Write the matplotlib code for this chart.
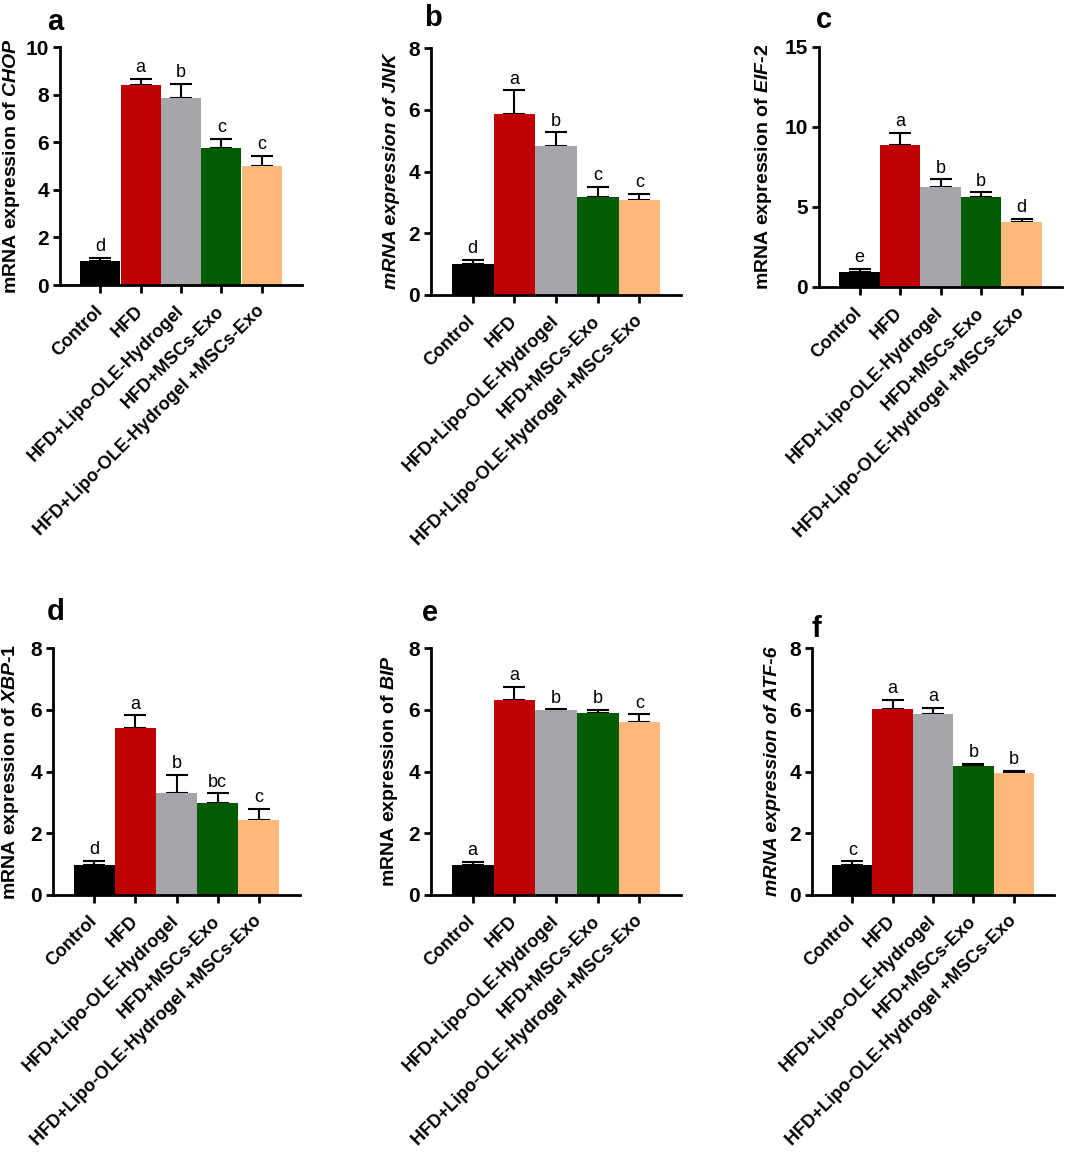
import matplotlib
matplotlib.use('Agg')
import matplotlib.pyplot as plt
import numpy as np

plt.rcParams['font.family'] = ['Liberation Sans', 'DejaVu Sans']
plt.rcParams['mathtext.fontset'] = 'custom'
plt.rcParams['mathtext.rm'] = 'Liberation Sans:bold'
plt.rcParams['mathtext.it'] = 'Liberation Sans:italic:bold'
plt.rcParams['mathtext.bf'] = 'Liberation Sans:bold'

# ---------------- data ----------------
groups = ['Control', 'HFD', 'HFD+Lipo-OLE-Hydrogel', 'HFD+MSCs-Exo',
          'HFD+Lipo-OLE-Hydrogel +MSCs-Exo']
colors = ['#000000', '#BE0000', '#A5A5AA', '#015C01', '#FFB97A']

chop_mean = [1.00, 8.42, 7.86, 5.74, 4.99]
chop_err = [0.15, 0.24, 0.60, 0.40, 0.42]
chop_sig = ['d', 'a', 'b', 'c', 'c']

jnk_mean = [1.00, 5.85, 4.84, 3.19, 3.08]
jnk_err = [0.14, 0.78, 0.43, 0.32, 0.20]
jnk_sig = ['d', 'a', 'b', 'c', 'c']

eif2_mean = [0.95, 8.90, 6.23, 5.61, 4.05]
eif2_err = [0.17, 0.72, 0.50, 0.30, 0.19]
eif2_sig = ['e', 'a', 'b', 'b', 'd']

xbp1_mean = [0.98, 5.41, 3.30, 2.98, 2.43]
xbp1_err = [0.12, 0.41, 0.59, 0.31, 0.37]
xbp1_sig = ['d', 'a', 'b', 'bc', 'c']

bip_mean = [0.98, 6.31, 5.98, 5.91, 5.60]
bip_err = [0.09, 0.43, 0.03, 0.08, 0.25]
bip_sig = ['a', 'a', 'b', 'b', 'c']

atf6_mean = [0.98, 6.01, 5.85, 4.18, 3.95]
atf6_err = [0.11, 0.31, 0.21, 0.06, 0.07]
atf6_sig = ['c', 'a', 'a', 'b', 'b']

W, H = 1065, 1159
fig = plt.figure(figsize=(W / 100, H / 100), dpi=100)

panels = [
    # letter, ylabel, means, errs, sigs, ymax, step, (x0, x1, ytop, ybot), label right px, letter pos
    ('a', r'mRNA expression of $\mathit{CHOP}$', chop_mean, chop_err, chop_sig, 10, 2,
     (60, 302, 47, 285), 22, (47, 22)),
    ('b', 'mRNA expression of JNK', jnk_mean, jnk_err, jnk_sig, 8, 2,
     (431, 681, 48, 295), 400, (424, 18)),
    ('c', r'mRNA expression of $\mathit{EIF}$-$\mathit{2}$', eif2_mean, eif2_err, eif2_sig, 15, 5,
     (819, 1062, 47, 287), 774, (816, 20)),
    ('d', r'mRNA expression of $\mathit{XBP}$-$\mathit{1}$', xbp1_mean, xbp1_err, xbp1_sig, 8, 2,
     (53, 300, 648, 895), 21, (47, 612)),
    ('e', r'mRNA expression of $\mathit{BIP}$', bip_mean, bip_err, bip_sig, 8, 2,
     (431, 681, 648, 895), 400, (422, 613)),
    ('f', 'mRNA expression of ATF-6', atf6_mean, atf6_err, atf6_sig, 8, 2,
     (812, 1054, 648, 895), 781, (811, 629)),
]

for letter, ylab, means, errs, sigs, ymax, step, (x0, x1, yt, yb), lab_r, (lx, ly) in panels:
    ax = fig.add_axes([x0 / W, 1 - yb / H, (x1 - x0) / W, (yb - yt) / H])
    x = np.arange(len(groups))
    ax.bar(x, means, width=1.0, color=colors, edgecolor='none', zorder=2)
    ax.errorbar(x, means, yerr=[np.zeros(len(errs)), errs], fmt='none', ecolor='black',
                elinewidth=1.5, capsize=8, capthick=1.5, zorder=1)
    for xi, m, e, s in zip(x, means, errs, sigs):
        ax.annotate(s, (xi, m + e), xytext=(0, 2), textcoords='offset points',
                    ha='center', va='bottom', fontsize=13)
    ax.set_xlim(-1, 5)
    ax.set_ylim(0, ymax)
    ax.set_yticks(np.arange(0, ymax + 0.01, step))
    ax.set_xticks(x)
    ax.set_xticklabels(groups, rotation=45, ha='right', va='center', rotation_mode='anchor',
                       fontsize=13, fontweight='bold')
    for t in ax.get_yticklabels():
        t.set_fontsize(15)
        t.set_fontweight('bold')
    ax.tick_params(axis='y', length=5, width=2, pad=3)
    ax.tick_params(axis='x', length=6, width=2, pad=11)
    for sp in ['top', 'right']:
        ax.spines[sp].set_visible(False)
    for sp in ['left', 'bottom']:
        ax.spines[sp].set_linewidth(2)
    italic_all = letter in ('b', 'f')
    ax.set_ylabel(ylab, fontsize=14, fontweight='bold',
                  fontstyle='italic' if italic_all else 'normal')
    ax.yaxis.set_label_coords((lab_r - x0) / (x1 - x0), 0.5)
    fig.text(lx / W, 1 - ly / H, letter, fontsize=21, fontweight='bold', ha='left', va='center')

fig.savefig('out.png', dpi=100)
